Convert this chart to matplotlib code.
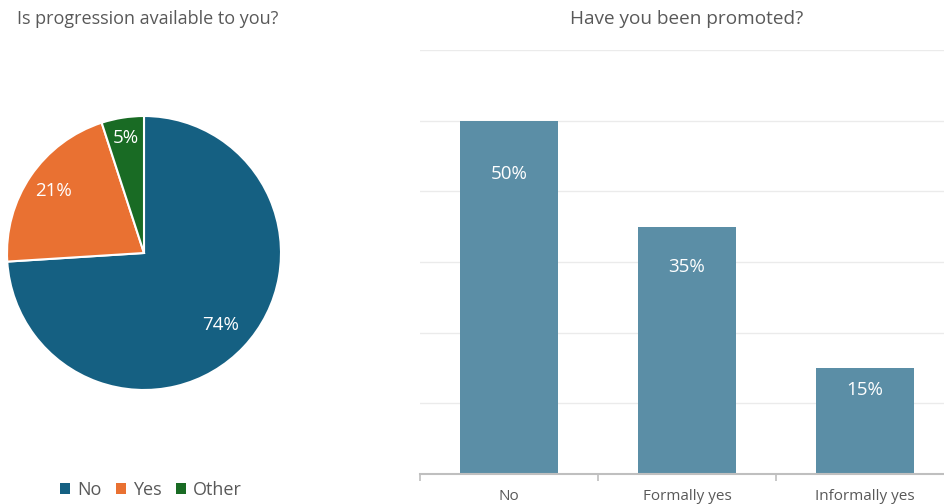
import math
import matplotlib.pyplot as plt
from matplotlib.patches import Patch
from matplotlib.ticker import FixedLocator

plt.rcParams['font.family'] = ['Open Sans', 'DejaVu Sans']

# dane: wykres kołowy
pie_labels = ["No", "Yes", "Other"]
pie_values = [74, 21, 5]
pie_colors = ["#156082", "#E97132", "#196B24"]

# dane: wykres słupkowy
bar_categories = ["No", "Formally yes", "Informally yes"]
bar_values = [0.50, 0.35, 0.15]
bar_color = "#5B8EA6"

text_gray = "#595959"

fig = plt.figure(figsize=(9.45, 5.04), dpi=100)
W, H = 945, 504

# --- wykres kołowy ---
cx, cy, r = 144, 253, 137
ax1 = fig.add_axes([(cx - r) / W, (H - cy - r) / H, 2 * r / W, 2 * r / H])
wedges, _ = ax1.pie(pie_values, colors=pie_colors, startangle=90, counterclock=False,
                    wedgeprops=dict(edgecolor="white", linewidth=1.5))
ax1.set_xlim(-1, 1)
ax1.set_ylim(-1, 1)
ax1.set_aspect("equal")

# etykiety procentowe wewnątrz wycinków
label_r = [0.77, 0.80, 0.85]
start = 90.0
total = sum(pie_values)
for val, lr in zip(pie_values, label_r):
    mid = start - val / total * 360 / 2
    ax1.text(lr * math.cos(math.radians(mid)), lr * math.sin(math.radians(mid)),
             f"{val}%", color="white", fontsize=13.5, ha="center", va="center")
    start -= val / total * 360

fig.text(148 / W, 1 - 19 / H, "Is progression available to you?", color=text_gray,
         fontsize=13, ha="center", va="center")

handles = [Patch(facecolor=c, edgecolor="none") for c in pie_colors]
fig.legend(handles, pie_labels, loc="center", bbox_to_anchor=(151 / W, 1 - 490 / H),
           ncol=3, frameon=False, fontsize=13, labelcolor=text_gray,
           handlelength=0.55, handleheight=0.55, handletextpad=0.4, columnspacing=0.8)

# --- wykres słupkowy ---
left, base, top = 420, 474, 50
ax2 = fig.add_axes([left / W, (H - base) / H, 534 / W, (base - top) / H])
x = range(len(bar_categories))
ax2.bar(x, bar_values, width=0.556, color=bar_color)
ax2.set_xlim(-0.5, len(bar_categories) - 0.5)
ax2.set_ylim(0, 0.6)
ax2.set_yticks([0.1, 0.2, 0.3, 0.4, 0.5, 0.6])
ax2.yaxis.grid(True, color="#EBEBEB", linewidth=1)
ax2.set_axisbelow(True)
ax2.tick_params(axis="y", left=False, labelleft=False)
for s in ["top", "right", "left"]:
    ax2.spines[s].set_visible(False)
ax2.spines["bottom"].set_color("#BFBFBF")
ax2.spines["bottom"].set_linewidth(1.5)

# granice kategorii jako znaczniki, podpisy pośrodku
ax2.xaxis.set_major_locator(FixedLocator([i - 0.5 for i in range(len(bar_categories) + 1)]))
ax2.xaxis.set_major_formatter(plt.NullFormatter())
ax2.set_xticks(list(x), bar_categories, minor=True)
ax2.tick_params(axis="x", which="major", length=5, color="#BFBFBF", width=1.2)
ax2.tick_params(axis="x", which="minor", length=0, pad=11, labelsize=11, labelcolor=text_gray)

# etykiety wartości wewnątrz słupków
for i, v in enumerate(bar_values):
    ax2.text(i, 0.87 * v - 0.011, f"{round(v * 100)}%", color="white", fontsize=13.5,
             ha="center", va="center")

fig.text(687 / W, 1 - 19 / H, "Have you been promoted?", color=text_gray,
         fontsize=13.7, ha="center", va="center")

fig.savefig("out.png", dpi=100)
